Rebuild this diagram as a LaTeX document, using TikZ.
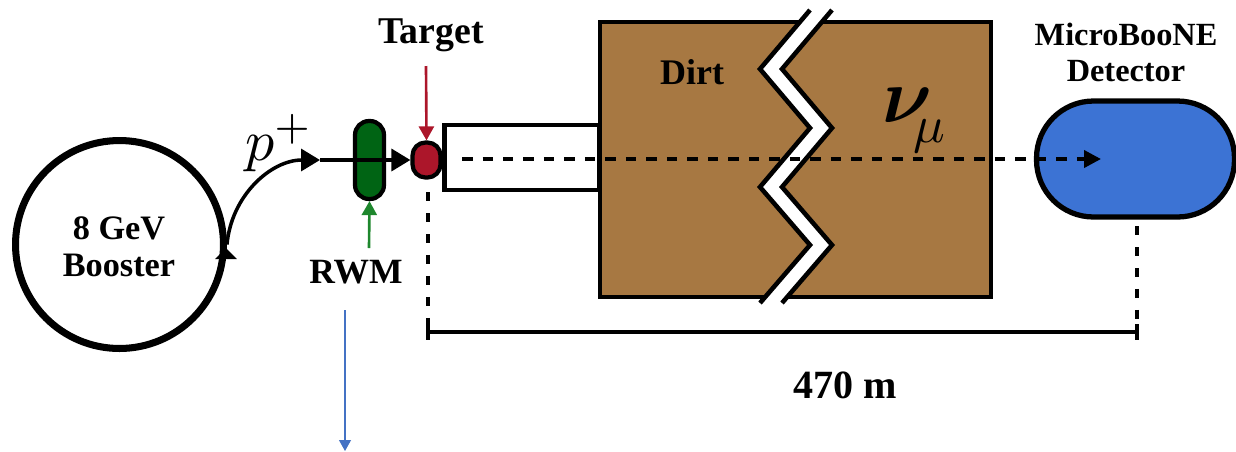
\documentclass[tikz,border=0pt]{standalone}
\usepackage{fontspec}
\setmainfont{Liberation Serif}
\usetikzlibrary{positioning,arrows.meta}
\definecolor{dirtbrown}{RGB}{167,120,66}
\definecolor{detblue}{RGB}{60,115,212}
\definecolor{rwmgreen}{RGB}{0,100,20}
\definecolor{rwmarrow}{RGB}{30,135,45}
\definecolor{tgtred}{RGB}{172,22,42}
\definecolor{outblue}{RGB}{68,114,196}
\tikzset{
  lbl/.style={font=\bfseries, align=center, inner sep=0pt},
  ring/.style={circle, draw, line width=4pt, minimum size=4.16cm, inner sep=0pt},
  pill/.style={draw, line width=2.4pt, inner sep=0pt},
  beam/.style={line width=2pt, -{Triangle[length=0.38cm,width=0.44cm]}},
  beamdash/.style={line width=2.2pt, dash pattern=on 0.21cm off 0.2cm},
  vdash/.style={line width=2.2pt, dash pattern=on 0.18cm off 0.24cm, shorten >=0.14cm},
  pointer/.style={line width=1.5pt, -{Triangle[length=0.28cm,width=0.3cm]}},
  brk/.style={line width=2.6pt, line join=miter},
}
\newcommand{\BrkA}{(810,10) -- (760,69) -- (810,128) -- (760,187) -- (810,245) -- (760,303)}
\newcommand{\BrkB}{(782,303) -- (832,245) -- (782,187) -- (832,128) -- (782,69) -- (832,10)}

\begin{document}
\begin{tikzpicture}[x=0.02cm,y=-0.02cm]
  \useasboundingbox (0,0) rectangle (1236,451);

  % boxes
  \node[draw, line width=2pt, fill=dirtbrown, minimum width=7.82cm, minimum height=5.5cm, inner sep=0pt] (dirt) at (795.5,159.5) {};
  \fill[white] \BrkA -- \BrkB -- cycle;
  \draw[brk] \BrkA;
  \draw[brk] \BrkB;
  \node[draw, line width=2.6pt, fill=white, minimum width=3.1cm, minimum height=1.3cm, inner sep=0pt] (pipe) at (522,157.5) {};
  \node[pill, line width=3pt, fill=detblue, minimum width=3.96cm, minimum height=2.32cm, rounded corners=1.14cm] (detector) at (1135.5,159) {};
  \node[pill, fill=rwmgreen, minimum width=0.58cm, minimum height=1.56cm, rounded corners=0.28cm] (rwm) at (369.5,160) {};
  \node[pill, fill=tgtred, minimum width=0.56cm, minimum height=0.7cm, rounded corners=0.26cm] (target) at (426.5,160) {};
  \node[ring] (booster) at (119.5,244.5) {};

  % labels
  \node[lbl, font=\fontsize{19.5}{21}\selectfont\bfseries] (boosterlbl) at (119,247) {8 GeV\\Booster};
  \node[lbl, font=\fontsize{21.5}{24}\selectfont\bfseries] (targetlbl) at (431,35) {Target};
  \node[lbl, font=\fontsize{20.2}{24}\selectfont\bfseries] (rwmlbl) at (356,272) {RWM};
  \node[lbl, font=\fontsize{20.5}{24}\selectfont\bfseries] (dirtlbl) at (692,72) {Dirt};
  \node[lbl, font=\fontsize{18.4}{20.5}\selectfont\bfseries] (detlbl) at (1126,52) {MicroBooNE\\Detector};
  \node[lbl, font=\fontsize{22.8}{26}\selectfont\bfseries] (distlbl) at (845,385) {470 m};
  \node[inner sep=0pt, scale=3.3] (plbl) at (279,143) {$p^{+}$};
  \node[inner sep=0pt, anchor=base west] (nulbl) at (882,122) {\scalebox{4.4}{\boldmath$\nu$}\kern-10.5pt\raisebox{-1.15em}{\scalebox{3}{$\mu$}}};

  % connectors
  \coordinate (beamin) at (320,160);
  \coordinate (tgtdown) at (428,192);
  \coordinate (detdown) at (1137,226);
  \coordinate (leftend) at (428,332);
  \coordinate (rightend) at (1137,332);
  \coordinate (nustart) at (462,159);
  \coordinate (nuend) at (1101,159);
  \coordinate (outstart) at (345,310);
  \coordinate (outend) at (345,451);
  \coordinate (ringtipa) at (226,259);
  \coordinate (ringtipb) at (226,248);
  \coordinate (tgttop) at (426,66);
  \coordinate (rwmbot) at (369,248);

  \draw[line width=2pt, -{Triangle[length=0.22cm,width=0.42cm]}] (ringtipa) -- (ringtipb);
  \draw[beam] (booster.east) to[out=85,in=180] (beamin);
  \draw[beam] (beamin) -- (target.west);
  \draw[pointer, draw=tgtred, fill=tgtred] (tgttop) -- (target.north);
  \draw[pointer, draw=rwmarrow, fill=rwmarrow] (rwmbot) -- (rwm.south);
  \draw[beamdash, -{Triangle[length=0.34cm,width=0.34cm]}] (nustart) -- (nuend);
  \draw[vdash] (tgtdown) -- (leftend);
  \draw[vdash] (detdown) -- (rightend);
  \draw[line width=1.8pt] (leftend) -- (rightend);
  \draw[line width=1.8pt] ([yshift=0.16cm]leftend) -- ([yshift=-0.16cm]leftend);
  \draw[line width=1.8pt] ([yshift=0.16cm]rightend) -- ([yshift=-0.16cm]rightend);
  \draw[draw=outblue, line width=0.6pt, -{Triangle[length=0.22cm,width=0.24cm]}] (outstart) -- (outend);
\end{tikzpicture}
\end{document}
